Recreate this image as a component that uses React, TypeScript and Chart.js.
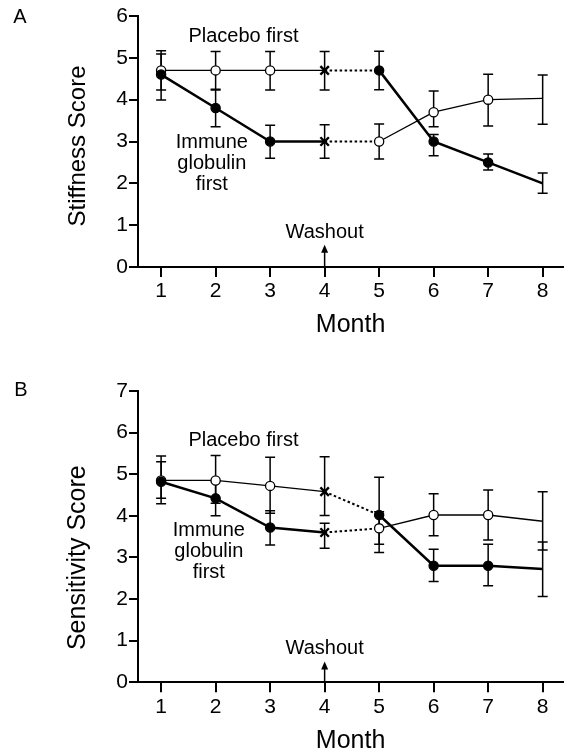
import React, { useEffect, useRef } from "react";
import { Chart, registerables } from "chart.js";

Chart.register(...registerables);

// ---------------- data ----------------
const months = [1, 2, 3, 4, 5, 6, 7, 8];
const stiffnessTicks = [0, 1, 2, 3, 4, 5, 6];
const sensitivityTicks = [0, 1, 2, 3, 4, 5, 6, 7];

// Panel A – stiffness score
const stiffIgFirst = [4.6, 3.8, 3.0, 3.0, 3.0, 3.7, 4.0, 4.03];
const stiffIgFirstLow = [3.99, 3.35, 2.6, 2.6, 2.58, 3.35, 3.37, 3.41];
const stiffIgFirstHigh = [5.09, 4.25, 3.39, 3.4, 3.42, 4.21, 4.61, 4.59];
const stiffPlaceboFirst = [4.7, 4.7, 4.7, 4.7, 4.7, 3.0, 2.5, 2.0];
const stiffPlaceboFirstLow = [4.23, 4.23, 4.23, 4.23, 4.24, 2.66, 2.32, 1.76];
const stiffPlaceboFirstHigh = [5.17, 5.15, 5.15, 5.15, 5.16, 3.17, 2.7, 2.25];

// Panel B – sensitivity score
const sensIgFirst = [4.82, 4.42, 3.72, 3.6, 3.7, 4.02, 4.02, 3.87];
const sensIgFirstLow = [4.42, 4.0, 3.3, 3.22, 3.32, 3.52, 3.42, 3.18];
const sensIgFirstHigh = [5.3, 4.84, 4.12, 3.82, 4.1, 4.53, 4.62, 4.58];
const sensPlaceboFirst = [4.85, 4.85, 4.72, 4.58, 4.02, 2.8, 2.8, 2.72];
const sensPlaceboFirstLow = [4.29, 4.3, 4.06, 4.01, 3.12, 2.42, 2.32, 2.06];
const sensPlaceboFirstHigh = [5.44, 5.45, 5.41, 5.42, 4.93, 3.2, 3.32, 3.37];

const washoutMonth = 4;

// ---------------- styling ----------------
const FONT = '"Liberation Sans", Arial, Helvetica, sans-serif';
const WASHOUT_INDEX = 3;

type Treat = "ig" | "placebo";

function groupDataset(
  label: string,
  values: number[],
  low: number[],
  high: number[],
  first: Treat
) {
  const second: Treat = first === "ig" ? "placebo" : "ig";
  const treat = (i: number) =>
    i < WASHOUT_INDEX ? first : i === WASHOUT_INDEX ? "x" : second;
  const last = values.length - 1;
  return {
    label,
    data: months.map((m, i) => ({ x: m, y: values[i] })),
    errLow: low,
    errHigh: high,
    borderColor: "#000",
    borderWidth: 2,
    tension: 0,
    fill: false,
    pointStyle: values.map((_, i) => (treat(i) === "x" ? "crossRot" : "circle")),
    pointRadius: values.map((_, i) =>
      i === last ? 0 : treat(i) === "x" ? 6 : 4.6
    ),
    pointBackgroundColor: values.map((_, i) =>
      treat(i) === "placebo" ? "#fff" : "#000"
    ),
    pointBorderColor: "#000",
    pointBorderWidth: values.map((_, i) => (treat(i) === "x" ? 2.4 : 1.3)),
    segment: {
      borderWidth: (ctx: any) => {
        const i = ctx.p0DataIndex;
        if (i === WASHOUT_INDEX) return 2;
        const t = i < WASHOUT_INDEX ? first : second;
        return t === "ig" ? 2.5 : 1.3;
      },
      borderDash: (ctx: any) =>
        ctx.p0DataIndex === WASHOUT_INDEX ? [2.5, 2.5] : undefined,
    },
  };
}

const extrasPlugin = {
  id: "extras",
  beforeDatasetsDraw(chart: any) {
    const { ctx } = chart;
    const x = chart.scales.x;
    const y = chart.scales.y;
    ctx.save();
    ctx.strokeStyle = "#000";
    ctx.lineWidth = 1.5;
    chart.data.datasets.forEach((ds: any) => {
      ds.errLow.forEach((lo: number, i: number) => {
        const px = x.getPixelForValue(months[i]);
        const pl = y.getPixelForValue(lo);
        const ph = y.getPixelForValue(ds.errHigh[i]);
        ctx.beginPath();
        ctx.moveTo(px, pl);
        ctx.lineTo(px, ph);
        ctx.moveTo(px - 5, pl);
        ctx.lineTo(px + 5, pl);
        ctx.moveTo(px - 5, ph);
        ctx.lineTo(px + 5, ph);
        ctx.stroke();
      });
    });
    ctx.restore();
  },
  afterDraw(chart: any, _args: any, opts: any) {
    const { ctx } = chart;
    const x = chart.scales.x;
    const y = chart.scales.y;
    ctx.save();
    ctx.fillStyle = "#000";
    ctx.strokeStyle = "#000";
    ctx.textAlign = "center";
    ctx.textBaseline = "middle";

    // panel letter
    ctx.font = `20px ${FONT}`;
    ctx.fillText(opts.letter, opts.letterX, opts.letterY);

    // y title
    ctx.save();
    ctx.font = `${opts.yTitleSize}px ${FONT}`;
    ctx.translate(opts.yTitleX, opts.yTitleY);
    ctx.rotate(-Math.PI / 2);
    ctx.fillText(opts.yTitle, 0, 0);
    ctx.restore();

    // group labels
    ctx.font = `20px ${FONT}`;
    ctx.fillText(
      "Placebo first",
      x.getPixelForValue(opts.placebo[0]),
      y.getPixelForValue(opts.placebo[1])
    );
    const igx = x.getPixelForValue(opts.ig[0]);
    const igy = y.getPixelForValue(opts.ig[1]);
    ["Immune", "globulin", "first"].forEach((t, k) => {
      ctx.fillText(t, igx, igy + k * 21);
    });

    // washout label + arrow
    const wx = x.getPixelForValue(washoutMonth);
    ctx.fillText("Washout", wx, y.getPixelForValue(opts.washoutText));
    const y0 = y.getPixelForValue(0);
    const tip = y.getPixelForValue(opts.arrowTip);
    ctx.lineWidth = 1.5;
    ctx.beginPath();
    ctx.moveTo(wx, y0);
    ctx.lineTo(wx, tip + 6);
    ctx.stroke();
    ctx.beginPath();
    ctx.moveTo(wx, tip);
    ctx.lineTo(wx - 3.5, tip + 8);
    ctx.lineTo(wx + 3.5, tip + 8);
    ctx.closePath();
    ctx.fill();
    ctx.restore();
  },
};

function makeConfig(
  datasets: any[],
  yTicks: number[],
  padTop: number,
  xAxisHeight: number,
  monthPad: number,
  extras: any
) {
  return {
    type: "line" as const,
    data: { datasets },
    plugins: [extrasPlugin],
    options: {
      animation: false,
      responsive: false,
      events: [],
      layout: { padding: { top: padTop, left: 0, right: 0, bottom: 0 } },
      plugins: {
        legend: { display: false },
        tooltip: { enabled: false },
        extras,
      },
      scales: {
        x: {
          type: "linear",
          min: 0.576,
          max: 8.375,
          afterBuildTicks: (s: any) => {
            s.ticks = months.map((v) => ({ value: v }));
          },
          afterFit: (s: any) => {
            s.height = xAxisHeight;
          },
          border: { color: "#000", width: 2 },
          grid: {
            drawOnChartArea: false,
            drawTicks: true,
            tickLength: 10,
            color: "#000",
            lineWidth: 2,
          },
          ticks: {
            color: "#000",
            font: { size: 21, family: FONT },
            padding: 2,
            maxRotation: 0,
            autoSkip: false,
          },
          title: {
            display: true,
            text: "Month",
            color: "#000",
            font: { size: 25, family: FONT, lineHeight: 1 },
            padding: { top: 0, bottom: monthPad },
          },
        },
        y: {
          type: "linear",
          min: yTicks[0],
          max: yTicks[yTicks.length - 1],
          afterBuildTicks: (s: any) => {
            s.ticks = yTicks.map((v) => ({ value: v }));
          },
          afterFit: (s: any) => {
            s.width = 138;
          },
          border: { color: "#000", width: 2 },
          grid: {
            drawOnChartArea: false,
            drawTicks: true,
            tickLength: 9,
            color: "#000",
            lineWidth: 2,
          },
          ticks: {
            color: "#000",
            font: { size: 21, family: FONT },
            padding: 1,
          },
          title: { display: false },
        },
      },
    },
  };
}

export default function App() {
  const refA = useRef<HTMLCanvasElement>(null);
  const refB = useRef<HTMLCanvasElement>(null);

  useEffect(() => {
    const dsA = [
      groupDataset("Immune globulin first", stiffIgFirst, stiffIgFirstLow, stiffIgFirstHigh, "ig"),
      groupDataset("Placebo first", stiffPlaceboFirst, stiffPlaceboFirstLow, stiffPlaceboFirstHigh, "placebo"),
    ];
    const dsB = [
      groupDataset("Immune globulin first", sensIgFirst, sensIgFirstLow, sensIgFirstHigh, "ig"),
      groupDataset("Placebo first", sensPlaceboFirst, sensPlaceboFirstLow, sensPlaceboFirstHigh, "placebo"),
    ];
    const chartA = new Chart(
      refA.current as HTMLCanvasElement,
      makeConfig(dsA, stiffnessTicks, 16, 83, 12.5, {
        letter: "A",
        letterX: 20,
        letterY: 17,
        yTitle: "Stiffness Score",
        yTitleSize: 24,
        yTitleX: 78,
        yTitleY: 146,
        placebo: [2.51, 5.52],
        ig: [1.93, 2.97],
        washoutText: 0.83,
        arrowTip: 0.53,
      }) as any
    );
    const chartB = new Chart(
      refB.current as HTMLCanvasElement,
      makeConfig(dsB, sensitivityTicks, 41, 71.7, 0, {
        letter: "B",
        letterX: 21,
        letterY: 40,
        yTitle: "Sensitivity Score",
        yTitleSize: 25,
        yTitleX: 78,
        yTitleY: 207.7,
        placebo: [2.51, 5.82],
        ig: [1.875, 3.64],
        washoutText: 0.82,
        arrowTip: 0.5,
      }) as any
    );
    return () => {
      chartA.destroy();
      chartB.destroy();
    };
  }, []);

  return (
    <div
      style={{
        position: "absolute",
        left: 0,
        top: 0,
        width: 569,
        height: 754,
        overflow: "hidden",
        background: "#fff",
      }}
    >
      <canvas
        ref={refA}
        width={569}
        height={350}
        style={{ position: "absolute", left: 0, top: 0, width: 569, height: 350 }}
      />
      <canvas
        ref={refB}
        width={569}
        height={404}
        style={{ position: "absolute", left: 0, top: 350, width: 569, height: 404 }}
      />
    </div>
  );
}
